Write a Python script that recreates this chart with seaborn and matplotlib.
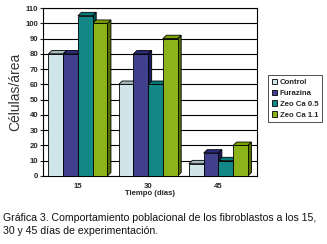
import pandas as pd
import matplotlib.pyplot as plt
import matplotlib.colors as mc
import seaborn as sns
from matplotlib.patches import Polygon

# Data
dias = ["15", "30", "45"]
grupos = ["Control", "Furazina", "Zeo Ca 0.5", "Zeo Ca 1.1"]
control = [80, 60, 8]
furazina = [80, 80, 15]
zeo_05 = [105, 60, 10]
zeo_11 = [100, 90, 20]
colores = ["#CCE8EE", "#333399", "#009999", "#99CC00"]

rows = []
for serie, vals in zip(grupos, [control, furazina, zeo_05, zeo_11]):
    for d, v in zip(dias, vals):
        rows.append({"dia": d, "grupo": serie, "valor": v})
df = pd.DataFrame(rows)

sns.set_theme(style="white")
plt.rcParams['font.family'] = ['Liberation Sans', 'DejaVu Sans']

fig = plt.figure(figsize=(3.27, 2.44), dpi=100)
ax = fig.add_axes([0.131, 0.279, 0.655, 0.688])

sns.barplot(data=df, x="dia", y="valor", hue="grupo", hue_order=grupos,
            order=dias, palette=colores, width=0.84, edgecolor="black",
            linewidth=0.6, ax=ax, legend=True, zorder=3)

# fake 3D faces on each bar (side and top, darker shades)
dx, dy = 0.05, 2.2
for p, c in zip(ax.patches[:12], [c for c in colores for _ in dias]):
    x0, w, h = p.get_x(), p.get_width(), p.get_height()
    rgb = mc.to_rgb(c)
    side = Polygon([[x0 + w, 0], [x0 + w + dx, dy], [x0 + w + dx, h + dy], [x0 + w, h]],
                   closed=True, facecolor=[v * 0.55 for v in rgb], edgecolor="black",
                   linewidth=0.6, zorder=2)
    top = Polygon([[x0, h], [x0 + dx, h + dy], [x0 + w + dx, h + dy], [x0 + w, h]],
                  closed=True, facecolor=[v * 0.8 for v in rgb], edgecolor="black",
                  linewidth=0.6, zorder=2)
    ax.add_patch(side)
    ax.add_patch(top)

ax.set_ylim(0, 110)
ax.set_xlim(-0.5, 2.55)
ax.set_yticks(range(0, 111, 10))
ax.yaxis.grid(True, color="black", linewidth=0.8, zorder=0)
ax.set_axisbelow(True)
for s in ax.spines.values():
    s.set_color("black")
    s.set_linewidth(0.8)

ax.tick_params(axis="y", labelsize=5.6, length=2.5, width=0.8, pad=1, left=True)
ax.tick_params(axis="x", labelsize=5.6, length=0, pad=5)
for lab in ax.get_yticklabels() + ax.get_xticklabels():
    lab.set_fontweight("bold")

ax.set_ylabel("Células/área", fontsize=10, color="#333333", labelpad=2)
ax.set_xlabel("Tiempo (días)", fontsize=5.6, fontweight="bold", labelpad=0)

leg = ax.legend(loc="center left", bbox_to_anchor=(1.035, 0.46), frameon=True,
                fontsize=5.6, handlelength=0.7, handleheight=0.7, handletextpad=0.3,
                borderpad=0.45, labelspacing=0.45, fancybox=False, edgecolor="black")
leg.get_frame().set_linewidth(0.6)
for t in leg.get_texts():
    t.set_fontweight("bold")

fig.text(0.01, 0.094, "Gráfica 3. Comportamiento poblacional de los fibroblastos a los 15,",
         fontsize=7.6, color="#111111")
fig.text(0.01, 0.043, "30 y 45 días de experimentación.", fontsize=7.6, color="#111111")

plt.savefig("out.png", dpi=100)
plt.close()
